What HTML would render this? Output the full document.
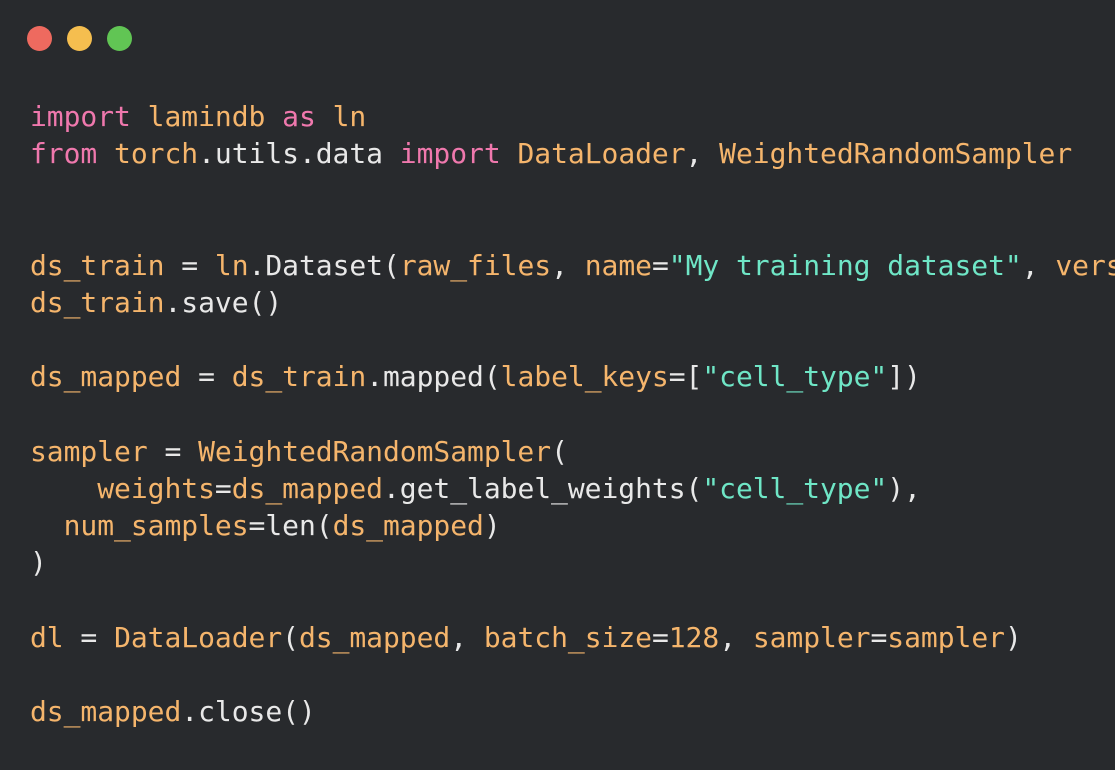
<!DOCTYPE html>
<html><head><meta charset="utf-8"><style>
html,body{margin:0;padding:0;}
body{width:1115px;height:770px;background:#282a2d;overflow:hidden;position:relative;}
.dot{position:absolute;top:26px;width:25px;height:25px;border-radius:50%;}
.wrap{position:absolute;left:0;top:0;width:1115px;height:770px;overflow:hidden;}
pre{position:absolute;left:30px;top:98px;margin:0;font-family:"DejaVu Sans Mono","Liberation Mono",monospace;font-size:28px;line-height:37.2px;letter-spacing:-0.05px;color:#e8e8e8;white-space:pre;}
.k{color:#ef78ad}.o{color:#f5b56c}.s{color:#6fe6c6}
</style></head><body>
<div class="dot" style="left:27px;background:#ee6a5f"></div>
<div class="dot" style="left:67px;background:#f5be4f"></div>
<div class="dot" style="left:107px;background:#61c554"></div>
<div class="wrap"><pre><span class="k">import</span> <span class="o">lamindb</span> <span class="k">as</span> <span class="o">ln</span>
<span class="k">from</span> <span class="o">torch</span>.utils.data <span class="k">import</span> <span class="o">DataLoader</span>, <span class="o">WeightedRandomSampler</span>


<span class="o">ds_train</span> = <span class="o">ln</span>.Dataset(<span class="o">raw_files</span>, <span class="o">name</span>=<span class="s">"My training dataset"</span>, <span class="o">vers</span>
<span class="o">ds_train</span>.save()

<span class="o">ds_mapped</span> = <span class="o">ds_train</span>.mapped(<span class="o">label_keys</span>=[<span class="s">"cell_type"</span>])

<span class="o">sampler</span> = <span class="o">WeightedRandomSampler</span>(
    <span class="o">weights</span>=<span class="o">ds_mapped</span>.get_label_weights(<span class="s">"cell_type"</span>),
  <span class="o">num_samples</span>=len(<span class="o">ds_mapped</span>)
)

<span class="o">dl</span> = <span class="o">DataLoader</span>(<span class="o">ds_mapped</span>, <span class="o">batch_size</span>=<span class="o">128</span>, <span class="o">sampler</span>=<span class="o">sampler</span>)

<span class="o">ds_mapped</span>.close()</pre></div>
</body></html>
